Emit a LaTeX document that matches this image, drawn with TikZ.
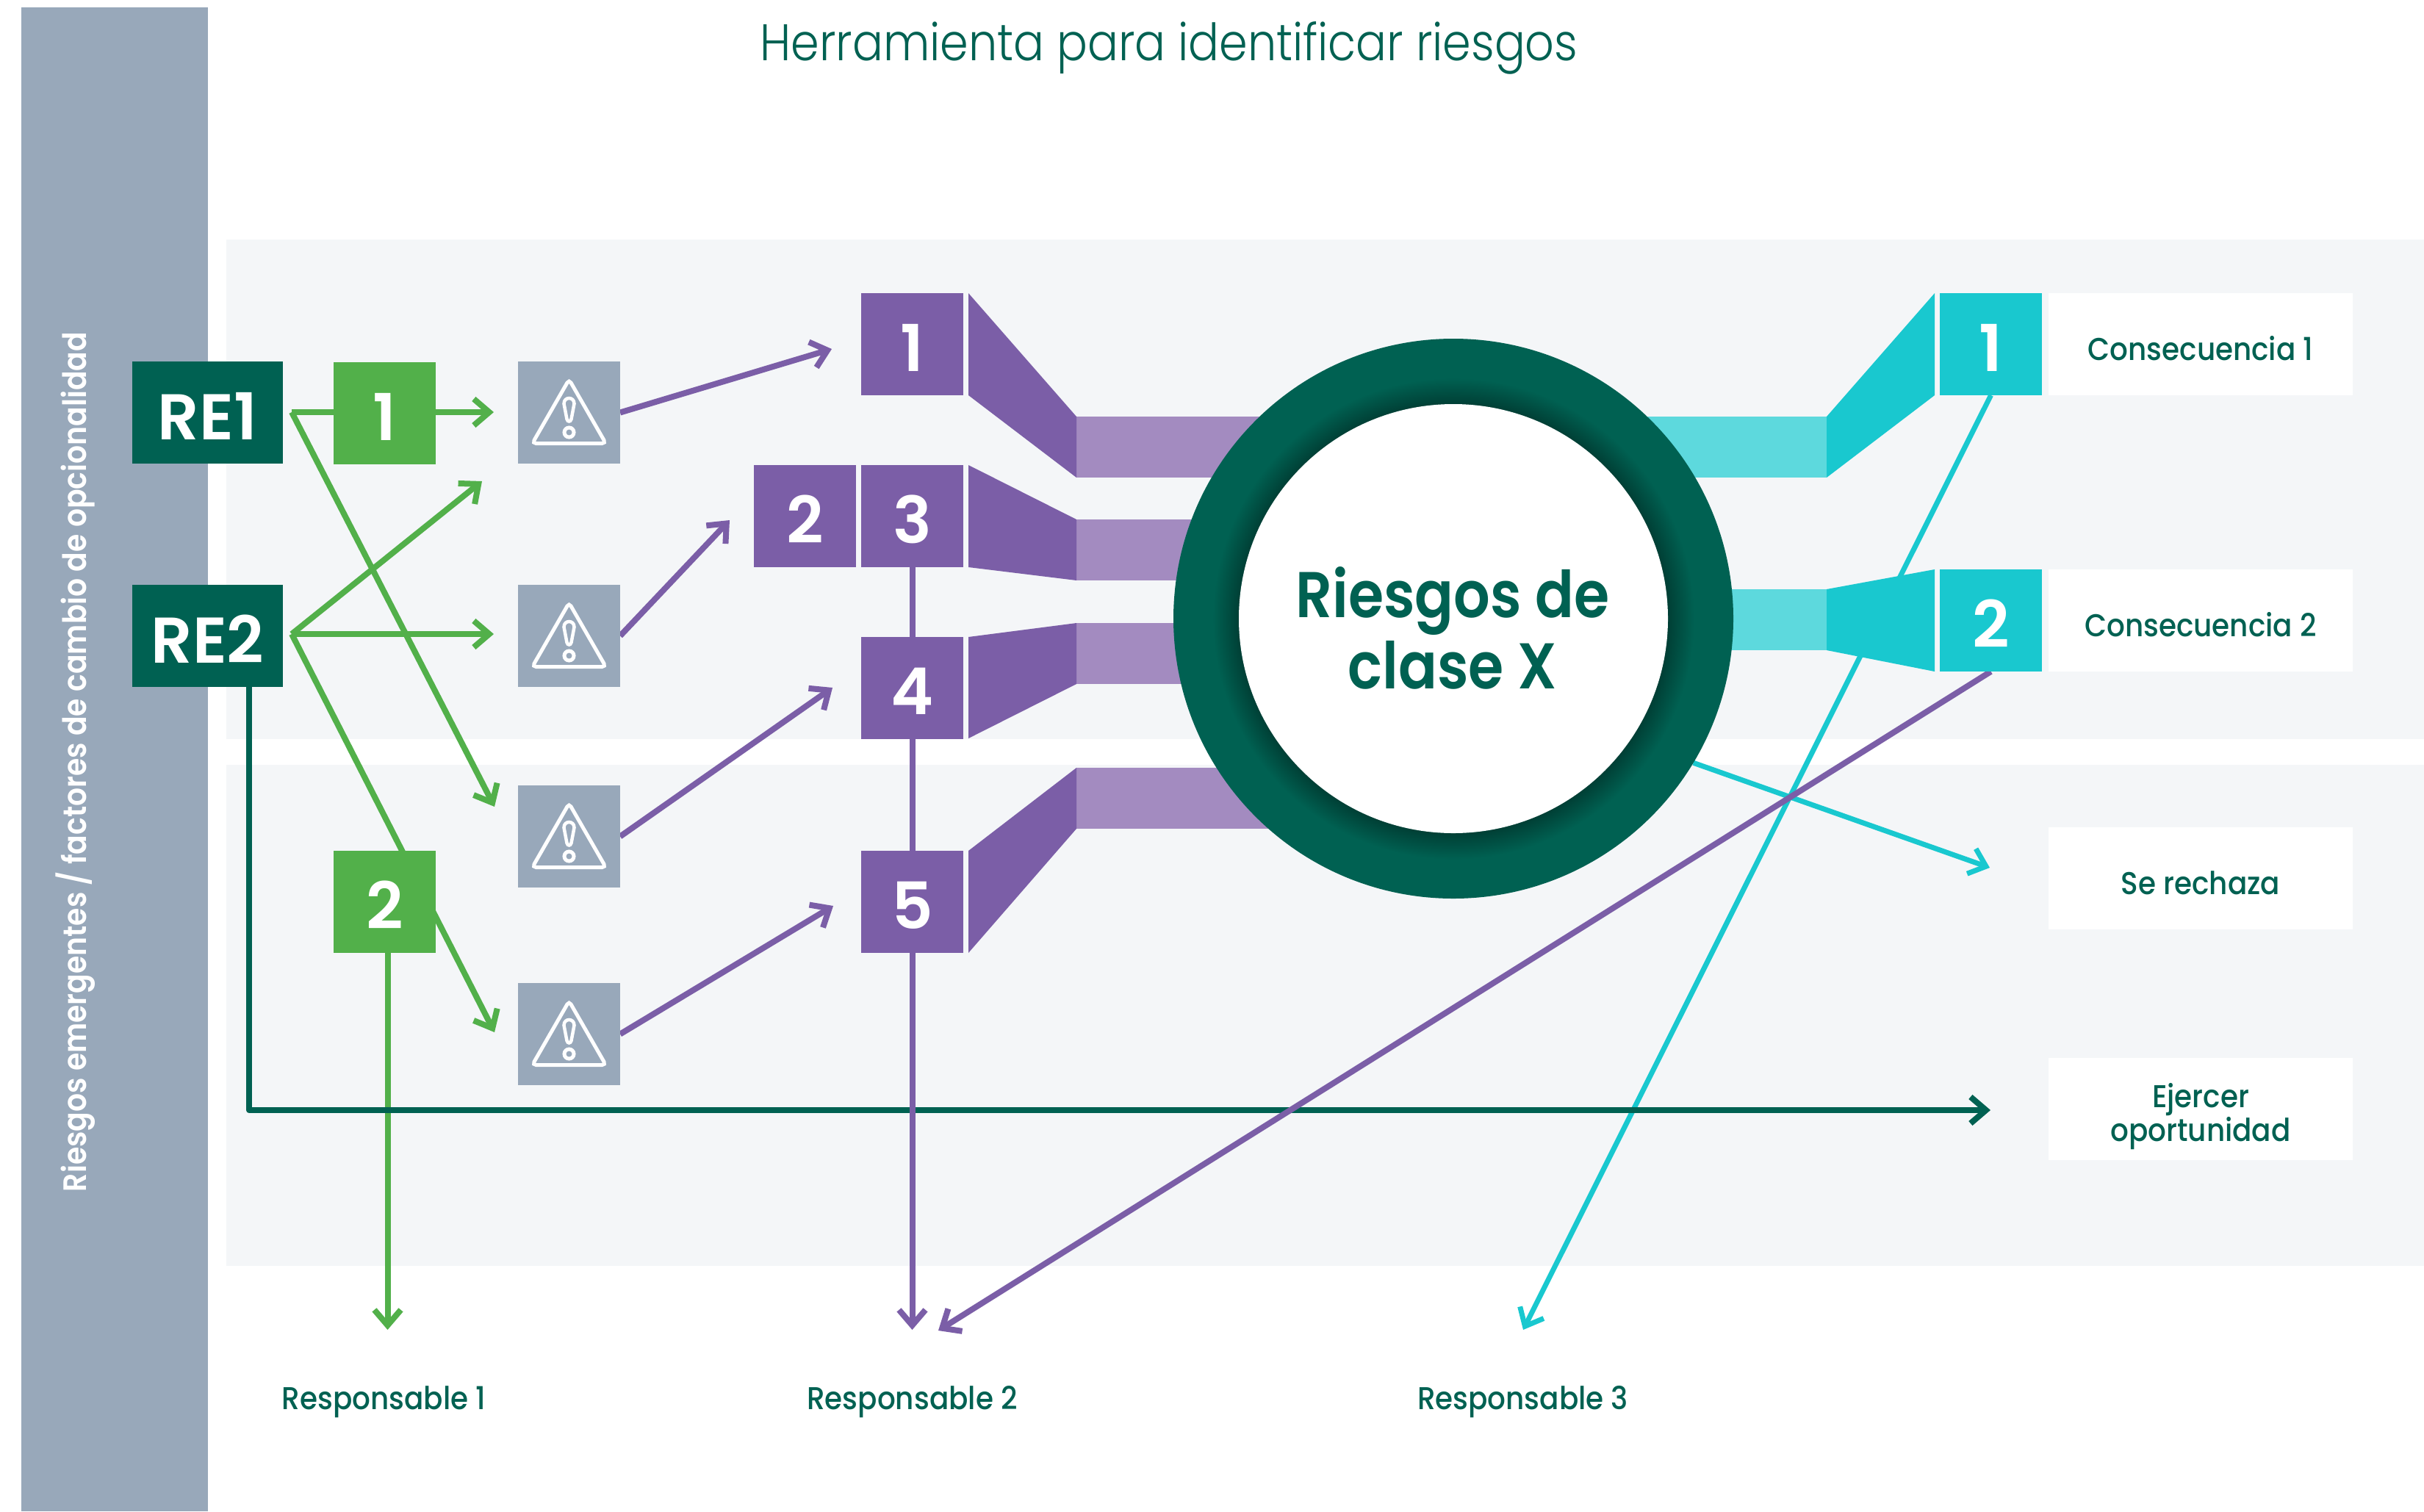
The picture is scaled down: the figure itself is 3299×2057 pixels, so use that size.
\documentclass[tikz,border=0pt]{standalone}
\usepackage{fontspec}
\usetikzlibrary{arrows.meta}
\newfontfamily\fLight[FakeStretch=.886]{Poppins Light}
\newfontfamily\fMed[FakeStretch=.905]{Poppins Medium}
\newfontfamily\fSide[FakeStretch=.893]{Poppins SemiBold}
\newfontfamily\fSemi{Poppins SemiBold}
\newfontfamily\fSemiN[FakeStretch=.886]{Poppins SemiBold}
\definecolor{panel}{HTML}{F4F6F8}
\definecolor{barblue}{HTML}{98A8BA}
\definecolor{dkgreen}{HTML}{006152}
\definecolor{dkshadow}{HTML}{003F35}
\definecolor{grn}{HTML}{52B04A}
\definecolor{purp}{HTML}{7B5EA7}
\definecolor{ltpurp}{HTML}{A38BC0}
\definecolor{teal}{HTML}{19C8CF}
\definecolor{ltteal}{HTML}{5DD9DD}
\pgfdeclareradialshading{ringshade}{\pgfpoint{0bp}{0bp}}{color(0bp)=(dkshadow); color(19.15bp)=(dkshadow); color(21.5bp)=(dkgreen); color(25bp)=(dkgreen); color(50bp)=(dkgreen)}
\pgfdeclarelayer{bgl}
\pgfdeclarelayer{conn}
\pgfsetlayers{bgl,conn,main}
\tikzset{
  numbox/.style={minimum width=139pt,minimum height=139pt,inner sep=0pt,outer sep=0pt,text=white,text height=73pt,text depth=0pt,font=\fontsize{88}{88}\fSemi},
  rebox/.style={numbox,minimum width=205pt,fill=dkgreen},
  grnbox/.style={numbox,fill=grn},
  purbox/.style={numbox,fill=purp},
  telbox/.style={numbox,fill=teal},
  warnbox/.style={numbox,fill=barblue},
  labbox/.style={minimum width=414pt,minimum height=139pt,inner sep=0pt,fill=white,text=dkgreen,align=center,font=\fontsize{43}{46}\fMed},
  resp/.style={inner sep=0pt,text=dkgreen,font=\fontsize{43}{46}\fMed},
  tipped/.style={line width=8pt,line join=round,-{Straight Barb[length=21pt,width=36pt,line width=8pt]}},
  tippedthin/.style={line width=7pt,line join=round,-{Straight Barb[length=21pt,width=36pt,line width=7pt]}},
  warn/.pic={
    \draw[white,line width=5pt,rounded corners=5pt] (0,-45)--(50,42)--(-50,42)--cycle;
    \draw[white,line width=4.5pt] (-7,-12) .. controls (-7,-22) and (7,-22) .. (7,-12) -- (3,9) .. controls (2,13) and (-2,13) .. (-3,9) -- cycle;
    \draw[white,line width=5pt] (0,27) circle (6.5pt);
  }
}
\begin{document}
\begin{tikzpicture}[x=1pt,y=-1pt]
\useasboundingbox (0,0) rectangle (3299,2057);
\begin{pgfonlayer}{bgl}
\fill[white] (0,0) rectangle (3299,2057);
\fill[panel] (308,326) rectangle (3299,1006);
\fill[panel] (308,1041) rectangle (3299,1723);
\fill[barblue] (29,10) rectangle (283,2057);
\end{pgfonlayer}
\node[inner sep=0pt,text=dkgreen,font=\fontsize{70}{84}\fLight] (title) at (1591,65) {Herramienta para identificar riesgos};
\node[inner sep=0pt,text=white,rotate=90,font=\fontsize{44}{50}\fSide] (side) at (103,1037) {Riesgos emergentes / factores de cambio de opcionalidad};

% light bars
\fill[ltpurp] (1465,567) rectangle (1800,650);
\fill[ltpurp] (1465,707) rectangle (1700,790);
\fill[ltpurp] (1465,848) rectangle (1700,931);
\fill[ltpurp] (1465,1045) rectangle (1800,1128);
\fill[ltteal] (2486,567) rectangle (2150,650);
\fill[ltteal] (2486,802) rectangle (2300,885);

% ring
\node[circle,shading=ringshade,minimum size=762pt,inner sep=0pt,outer sep=0pt] (ring) at (1978,842) {};
\node[circle,fill=white,minimum size=584pt,inner sep=0pt,outer sep=0pt] (core) at (1978,842) {};
\node[inner sep=0pt,text=dkgreen,align=center,font=\fontsize{88}{97}\fSemiN] (corelabel) at (1977,855) {Riesgos de\\clase X};

% tapers
\fill[purp] (1318,399)--(1465,567)--(1465,650)--(1318,538)--cycle;
\fill[purp] (1318,633)--(1465,707)--(1465,790)--(1318,772)--cycle;
\fill[purp] (1318,867)--(1465,848)--(1465,931)--(1318,1005)--cycle;
\fill[purp] (1318,1158)--(1465,1045)--(1465,1128)--(1318,1297)--cycle;
\fill[teal] (2633,399)--(2486,567)--(2486,650)--(2633,538)--cycle;
\fill[teal] (2633,775)--(2486,802)--(2486,885)--(2633,914)--cycle;

% boxes
\node[rebox] (re1) at (282.5,561.5) {RE1};
\node[rebox] (re2) at (282.5,865.5) {RE2};
\node[grnbox] (g1) at (523.5,562.5) {1};
\node[grnbox] (g2) at (523.5,1227.5) {2};
\node[warnbox] (w1) at (774.5,561.5) {};
\node[warnbox] (w2) at (774.5,865.5) {};
\node[warnbox] (w3) at (774.5,1138.5) {};
\node[warnbox] (w4) at (774.5,1407.5) {};
\pic at (w1) {warn};
\pic at (w2) {warn};
\pic at (w3) {warn};
\pic at (w4) {warn};
\node[purbox] (p1) at (1241.5,468.5) {1};
\node[purbox] (p2) at (1095.5,702.5) {2};
\node[purbox] (p3) at (1241.5,702.5) {3};
\node[purbox] (p4) at (1241.5,936) {4};
\node[purbox] (p5) at (1241.5,1227.5) {5};
\node[telbox] (t1) at (2709.5,468.5) {1};
\node[telbox] (t2) at (2709.5,844.5) {2};
\node[labbox] (c1) at (2995,468.5) {\rule{0pt}{44pt}Consecuencia 1};
\node[labbox] (c2) at (2995,844.5) {\rule{0pt}{44pt}Consecuencia 2};
\node[labbox] (c3) at (2995,1195.5) {\rule{0pt}{44pt}Se rechaza};
\node[labbox] (c4) at (2995,1509.5) {\rule{0pt}{54pt}Ejercer\\oportunidad};
\node[resp] (r1) at (522.5,1908) {Responsable 1};
\node[resp] (r2) at (1241.5,1908) {Responsable 2};
\node[resp] (r3) at (2072.5,1908) {Responsable 3};

% connector ends
\coordinate (f1) at (397,561);
\coordinate (f2) at (397,863);
\coordinate (e1) at (672,561);
\coordinate (e2) at (656,655);
\coordinate (e3) at (672,863);
\coordinate (e4) at (673,1098);
\coordinate (e5) at (673,1405);
\coordinate (a1) at (1132,475);
\coordinate (a2) at (993,708);
\coordinate (a3) at (1133,936);
\coordinate (a4) at (1134,1233);
\coordinate (g2s) at (527.5,1297);
\coordinate (b1) at (527.5,1810);
\coordinate (b2) at (1241.5,1810);
\coordinate (b3) at (1277,1811);
\coordinate (b4) at (2073,1810);
\coordinate (d1) at (339,935);
\coordinate (d2) at (339,1511);
\coordinate (d3) at (2709,1511);
\coordinate (s1) at (2708,1181);

\begin{pgfonlayer}{conn}
\draw[tipped,grn] (f1)--(e1);
\draw[tipped,grn] (f1)--(e4);
\draw[tipped,grn] (f2)--(e2);
\draw[tipped,grn] (f2)--(e3);
\draw[tipped,grn] (f2)--(e5);
\draw[tipped,grn] (g2s)--(b1);
\draw[tippedthin,teal] (t1.south)--(b4);
\draw[tippedthin,teal] (ring.-31)--(s1);
\draw[tipped,dkgreen] (d1)--(d2)--(d3);
\draw[tipped,purp] (w1.east)--(a1);
\draw[tipped,purp] (w2.east)--(a2);
\draw[tipped,purp] (w3.east)--(a3);
\draw[tipped,purp] (w4.east)--(a4);
\draw[tipped,purp] (p3.south)--(b2);
\draw[tipped,purp] (t2.south)--(b3);
\end{pgfonlayer}
\end{tikzpicture}
\end{document}
